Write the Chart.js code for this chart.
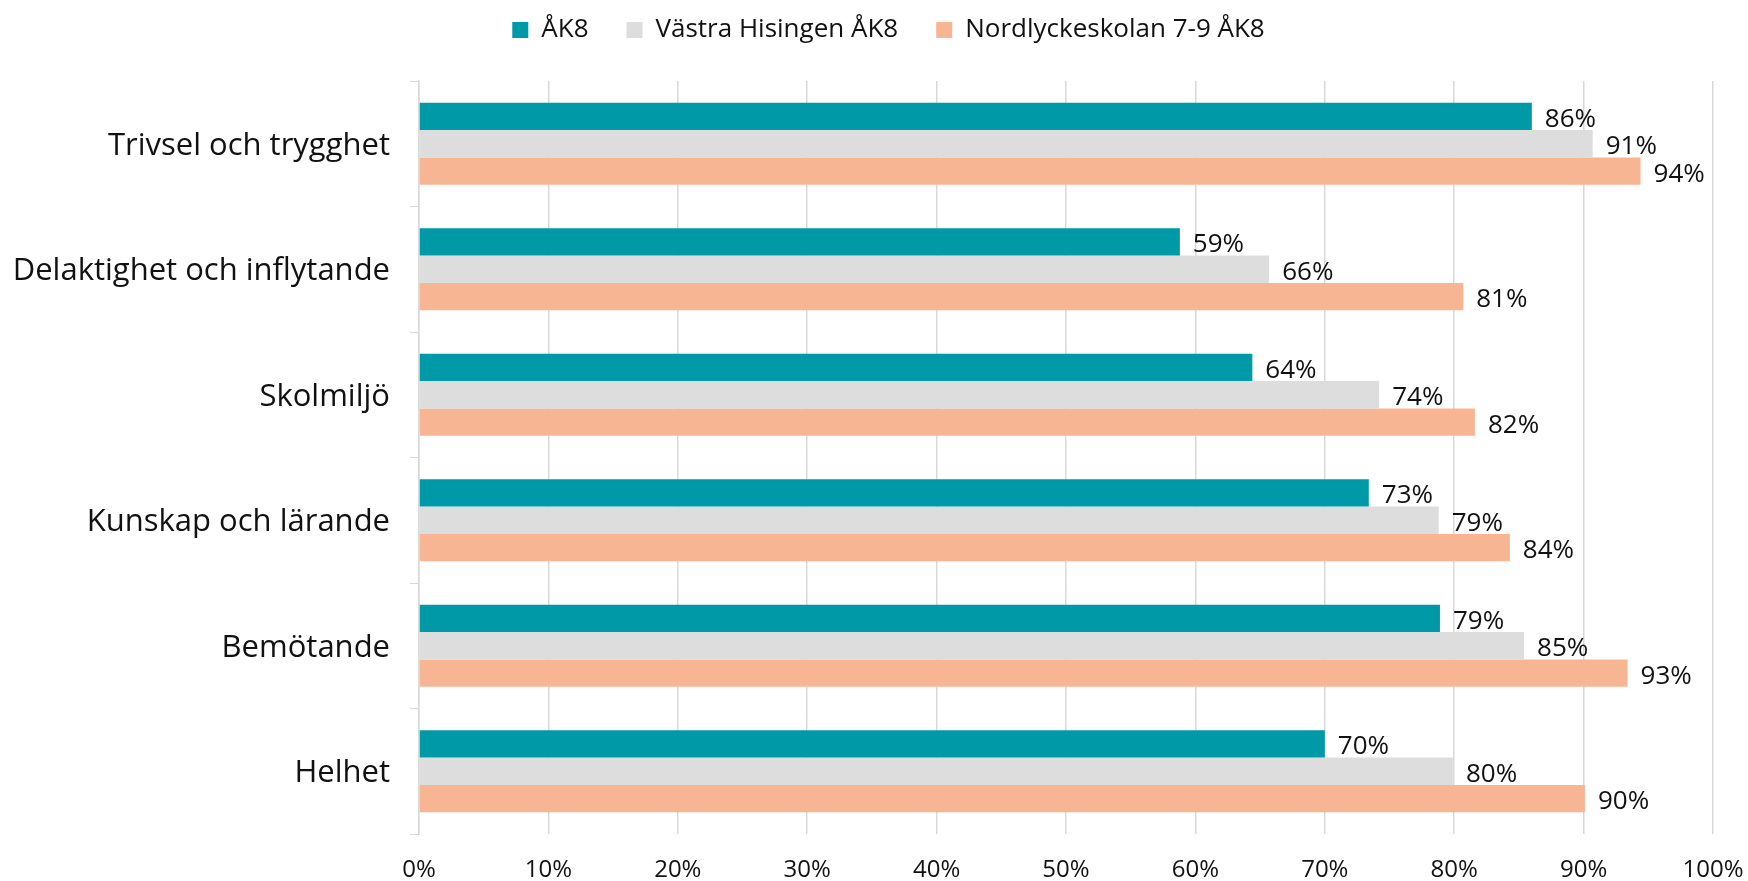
<!DOCTYPE html>
<html>
<head>
<meta charset="utf-8">
<script src="https://cdn.jsdelivr.net/npm/chart.js@4"></script>
<style>
  html, body { margin: 0; padding: 0; background: #fff; }
  #wrap { width: 1748px; height: 881px; }
</style>
</head>
<body>
<div id="wrap"><canvas id="chart" width="1748" height="881"></canvas></div>
<script>
// Categories (top to bottom)
const categories = ["Trivsel och trygghet", "Delaktighet och inflytande", "Skolmiljö", "Kunskap och lärande", "Bemötande", "Helhet"];

// Series values in percent
const ak8 = [86.0, 58.8, 64.4, 73.4, 78.9, 70.0];
const vastraHisingen = [90.7, 65.7, 74.2, 78.8, 85.4, 79.9];
const nordlycke = [94.4, 80.7, 81.6, 84.3, 93.4, 90.1];

const seriesNames = ["ÅK8", "Västra Hisingen ÅK8", "Nordlyckeskolan 7-9 ÅK8"];
const seriesColors = ["#0099A8", "#DDDDDD", "#F8B593"];

const fontFamily = "'Open Sans', 'Noto Sans', sans-serif";

// Draws the "86%" style labels to the right of each bar
const valueLabels = {
  id: "valueLabels",
  afterDatasetsDraw(chart) {
    const ctx = chart.ctx;
    ctx.save();
    ctx.font = "26px " + fontFamily;
    ctx.fillStyle = "#111";
    ctx.textBaseline = "middle";
    ctx.textAlign = "left";
    chart.data.datasets.forEach(function (ds, i) {
      const meta = chart.getDatasetMeta(i);
      meta.data.forEach(function (bar, j) {
        ctx.fillText(Math.round(ds.data[j]) + "%", bar.x + 13, bar.y + 3);
      });
    });
    ctx.restore();
  }
};

// Give the legend extra room below it and nudge it a bit to the right
const legendSpace = {
  id: "legendSpace",
  beforeInit(chart) {
    const legend = chart.legend;
    if (!legend) return;
    const fit = legend.fit;
    legend.fit = function () {
      fit.call(this);
      this.height = 102;
    };
  },
  beforeDraw(chart) {
    if (!chart.legend) return;
    chart.legend.left += 32;
    chart.legend.right += 32;
  }
};

const ctx = document.getElementById("chart").getContext("2d");
new Chart(ctx, {
  type: "bar",
  data: {
    labels: categories,
    datasets: [
      { label: seriesNames[0], data: ak8, backgroundColor: seriesColors[0] },
      { label: seriesNames[1], data: vastraHisingen, backgroundColor: seriesColors[1] },
      { label: seriesNames[2], data: nordlycke, backgroundColor: seriesColors[2] }
    ]
  },
  options: {
    indexAxis: "y",
    responsive: false,
    animation: false,
    devicePixelRatio: 1,
    categoryPercentage: 0.655,
    barPercentage: 1.0,
    layout: { padding: { top: -21, right: 35, bottom: 0, left: 0 } },
    plugins: {
      legend: {
        position: "top",
        labels: {
          font: { family: fontFamily, size: 26 },
          color: "#111",
          boxWidth: 16,
          boxHeight: 16,
          padding: 38
        }
      },
      tooltip: { enabled: false }
    },
    scales: {
      x: {
        min: 0,
        max: 100,
        ticks: {
          stepSize: 10,
          callback: function (v) { return v + "%"; },
          font: { family: fontFamily, size: 24 },
          color: "#111",
          padding: 22
        },
        grid: { color: "#D9D9D9", lineWidth: 1.5, drawTicks: false },
        border: { display: false },
        afterFit: function (scale) {
          scale.height = 47;
          scale.paddingRight = 0;
          scale.paddingLeft = 0;
        }
      },
      y: {
        offset: true,
        ticks: {
          font: { family: fontFamily, size: 31 },
          color: "#111",
          padding: 20,
          labelOffset: 2
        },
        grid: {
          offset: true,
          drawOnChartArea: false,
          color: "#D9D9D9",
          tickLength: 9
        },
        border: { display: true, color: "#D9D9D9", width: 1.5 },
        afterFit: function (scale) { scale.width = 419; }
      }
    }
  },
  plugins: [valueLabels, legendSpace]
});
</script>
</body>
</html>
